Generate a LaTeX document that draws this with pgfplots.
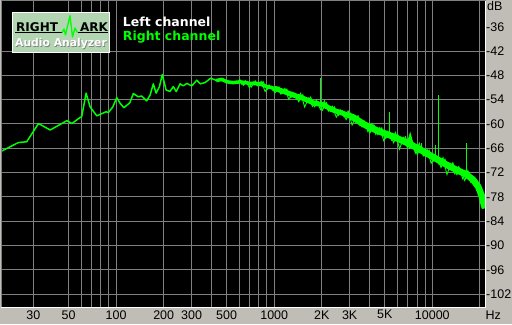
\documentclass[border=0pt]{standalone}
\usepackage{pgfplots}
\pgfplotsset{compat=1.18}
\usepackage{fontspec}
\newfontfamily\lib{Liberation Sans}
\newfontfamily\dv{DejaVu Sans}
\definecolor{bg}{RGB}{191,189,182}
\definecolor{gridc}{RGB}{128,128,128}
\definecolor{lgreen}{RGB}{0,255,0}
\definecolor{logo}{RGB}{178,214,178}
\newcommand\tickfont{\lib\fontsize{12.5bp}{12.5bp}\selectfont}
\begin{document}
\begin{tikzpicture}[x=1bp,y=1bp]
\fill[bg] (0,0) rectangle (512,324);
\begin{axis}[
 at={(1.7bp,17bp)}, anchor=south west, scale only axis,
 width=483.3bp, height=306bp,
 xmode=log, xmin=18.9, xmax=21540, ymin=-105.2, ymax=-29.65,
 axis line style={draw=none},
 axis background/.style={fill=black},
 xtick={30,50,100,200,300,500,1000,2000,3000,5000,10000},
 xticklabels={30,50,100,200,300,500,1000,2K,3K,5K,10000},
 minor xtick={60,70,80,90,400,600,700,800,900,4000,6000,7000,8000,9000,20000},
 ytick={-102,-96,-90,-84,-78,-72,-66,-60,-54,-48,-42,-36},
 yticklabels={-102,-96,-90,-84,-78,-72,-66,-60,-54,-48,-42,-36},
 minor ytick={-102,-96,-90,-84,-78,-72,-66,-60,-54,-48,-42},
 xmajorgrids, xminorgrids, yminorgrids, ymajorgrids=false,
 grid style={gridc, line width=1bp},
 minor grid style={gridc, line width=1bp},
 major tick length=0, minor tick length=0,
 yticklabel pos=right,
 yticklabel style={font=\tickfont, anchor=west, inner sep=0pt, xshift=1bp},
 xticklabel style={font=\tickfont, anchor=center, inner sep=0pt, yshift=-7.7bp},
]
% low-frequency part
\addplot[lgreen, line width=1.5bp, line join=round] coordinates {
(18.9,-66.7) (24.1,-64.6) (27.2,-64.4) (32.3,-59.9) (38.3,-61.5) (48.8,-59.2)
(52.5,-59.9) (59.2,-58.4) (60.6,-58.2) (64.6,-52.4) (68.5,-55.8) (75.5,-58.0)
(86.4,-57.0) (89.4,-57.2) (95.3,-55.8) (101,-53.5) (106,-54.9) (112,-56.0)
(122,-54.8) (128.6,-52.5) (138,-53.3) (145,-53.1) (156,-54.3) (164,-52.9)
(172,-50.1) (179,-52.4) (188,-50.8) (196,-47.8) (207,-51.6) (219,-52.0)
(230,-50.8) (240,-52.0) (254,-50.1) (266,-50.6) (280,-50.0) (301,-50.6)
(324,-49.2) (340,-50.1) (365,-49.8) (397,-48.7) (433,-49.3) (466,-49.0)
(502,-49.6) (552,-49.8) (608,-49.6)};
% noise band
\addplot[lgreen, line width=3.5bp, line join=round] coordinates {
(430,-49.3) (466,-49.0) (502,-49.6) (552,-49.8) (608,-49.6) (700,-50.0)
(800,-50.05) (900,-50.8) (1000,-51.2)};
\addplot[lgreen, line width=5bp, line join=round] coordinates {
(1000,-51.2) (1150,-52.0) (1330,-52.9) (1530,-53.7) (1770,-54.8) (2040,-55.3)
(2360,-56.6) (2730,-57.4) (3020,-58.1)};
\addplot[lgreen, line width=6.5bp, line join=round] coordinates {
(3020,-58.1) (3160,-58.4) (3660,-60.0) (4040,-60.9) (4650,-61.9) (5640,-63.1)
(7240,-65.0) (8420,-66.4) (10900,-68.9) (12330,-70.1) (14300,-71.4)
(16300,-72.4) (18150,-73.8) (19500,-75.5) (20500,-77.6) (21200,-80.0) (21540,-80.8)};
\addplot[lgreen, line width=1bp] coordinates {
(603,-48.9) (638,-50.45) (676,-49.5) (716,-50.9) (759,-49.4) (804,-50.55)
(851,-49.6) (902,-51.5) (955,-50.65) (1012,-52.3) (1072,-50.9) (1135,-52.45)
(1202,-51.45) (1274,-53.5) (1349,-52.45) (1429,-54.5) (1514,-52.85) (1603,-54.7)
(1698,-53.4) (1799,-55.75) (1905,-54.6) (2018,-56.6) (2138,-54.8) (2265,-56.9)
(2399,-55.8) (2541,-57.9) (2692,-56.75) (2851,-58.9) (3020,-57.3) (3199,-59.15)
(3388,-58.0) (3589,-60.7) (3802,-59.9) (4027,-62.25) (4266,-60.2) (4519,-62.6)
(4786,-61.0) (5070,-63.55) (5370,-62.15) (5689,-64.6) (6026,-62.6) (6383,-64.85)
(6761,-63.2) (7161,-66.0) (7586,-64.85) (8035,-67.55) (8511,-65.4) (9016,-67.95)
(9550,-66.5) (10116,-69.25) (10715,-68.1) (11350,-70.75) (12023,-68.75) (12735,-71.25)
(13490,-69.6) (14289,-72.5) (15136,-71.3) (16032,-73.95) (16982,-71.8) (17989,-74.6)
(19055,-73.85) (20184,-78.0) (20893,-78.3) (21528,-80.6)};
\addplot[lgreen, line width=0.9bp] coordinates {
(620,-50.3) (657,-49.3) (696,-51.0) (737,-49.6) (781,-50.6) (827,-49.5)
(876,-52.0) (928,-50.4) (983,-51.8) (1041,-50.8) (1103,-52.65) (1168,-51.25)
(1237,-53.95) (1311,-52.2) (1388,-53.95) (1471,-52.4) (1558,-55.85) (1650,-53.6)
(1748,-55.7) (1851,-54.05) (1961,-56.45) (2077,-54.3) (2200,-56.85) (2331,-55.65)
(2469,-58.35) (2616,-56.55) (2771,-58.3) (2935,-56.8) (3109,-60.3) (3293,-58.1)
(3488,-60.45) (3695,-59.2) (3914,-61.9) (4146,-59.9) (4391,-62.6) (4651,-60.9)
(4927,-64.1) (5219,-61.9) (5528,-64.0) (5856,-62.1) (6203,-66.2) (6571,-63.4)
(6960,-65.9) (7372,-64.05) (7809,-67.2) (8272,-64.75) (8762,-67.9) (9281,-66.3)
(9829,-69.7) (10411,-67.75) (11028,-70.0) (11682,-68.3) (12374,-72.5) (13106,-69.8)
(13883,-72.35) (14706,-70.5) (15577,-73.6) (16500,-71.15) (17479,-74.4) (18515,-73.3)
(19612,-77.7) (20535,-77.1)};
% spikes and bumps
\addplot[lgreen, line width=1bp] coordinates {(1970,-55.4) (1970,-48.7)};
\addplot[lgreen, line width=1bp] coordinates {(5345,-62.0) (5345,-57.0)};
\addplot[lgreen, line width=1bp] coordinates {(10910,-68.5) (10910,-52.9)};
\addplot[lgreen, line width=1bp] coordinates {(16500,-72.2) (16500,-64.6)};
\addplot[lgreen, line width=2.5bp] coordinates {(7000,-64.9) (7240,-63.0) (7500,-65.2)};
\addplot[lgreen, line width=1bp] coordinates {(8570,-66.8) (8570,-64.8)};
\addplot[lgreen, line width=1bp] coordinates {(10510,-68.4) (10510,-65.2)};
\end{axis}
% frame
\draw[gridc, line width=1bp] (1.7,16.5) -- (1.7,323) -- (485.5,323);
\draw[white, line width=1bp] (485.5,323) -- (485.5,16.5) -- (1.2,16.5);
% axis end labels
\node[anchor=west, inner sep=0pt, font=\tickfont] at (487,318) {dB};
\node[anchor=west, inner sep=0pt, font=\tickfont] at (485.3,9.3) {Hz};
% logo
\fill[logo] (12.3,311.7) rectangle (109.3,271.7);
\draw[white, line width=1bp] (12.3,311.7) rectangle (109.3,271.7);
\draw[black, line width=1.3bp] (15,291.3) -- (62.5,291.3);
\draw[black, line width=1.3bp] (77.5,291.3) -- (107.5,291.3);
\draw[lgreen, line width=1.3bp, line join=round] (62,291.3) -- (64,295) -- (65.5,289) -- (70,308.5) -- (72.5,287) -- (75,296) -- (77.5,291.3);
\node[anchor=base west, inner sep=0pt, font=\dv\bfseries\fontsize{12bp}{12bp}\selectfont] at (16,292.7) {RIGHT};
\node[anchor=base west, inner sep=0pt, font=\dv\bfseries\fontsize{12bp}{12bp}\selectfont] at (80,292.7) {ARK};
\node[anchor=base west, inner sep=0pt, text=gray, font=\dv\bfseries\fontsize{10.8bp}{10.8bp}\selectfont] at (15.7,276.6) {Audio Analyzer};
\node[anchor=base west, inner sep=0pt, text=white, font=\dv\bfseries\fontsize{10.8bp}{10.8bp}\selectfont] at (15,277.3) {Audio Analyzer};
% legend
\node[anchor=base west, inner sep=0pt, text=white, font=\dv\bfseries\fontsize{12.5bp}{12.5bp}\selectfont] at (122.7,297.3) {Left channel};
\node[anchor=base west, inner sep=0pt, text=lgreen, font=\dv\bfseries\fontsize{12.5bp}{12.5bp}\selectfont] at (122.7,283.3) {Right channel};
\pgfresetboundingbox
\path[use as bounding box] (0,0) rectangle (512,324);
\end{tikzpicture}
\end{document}
